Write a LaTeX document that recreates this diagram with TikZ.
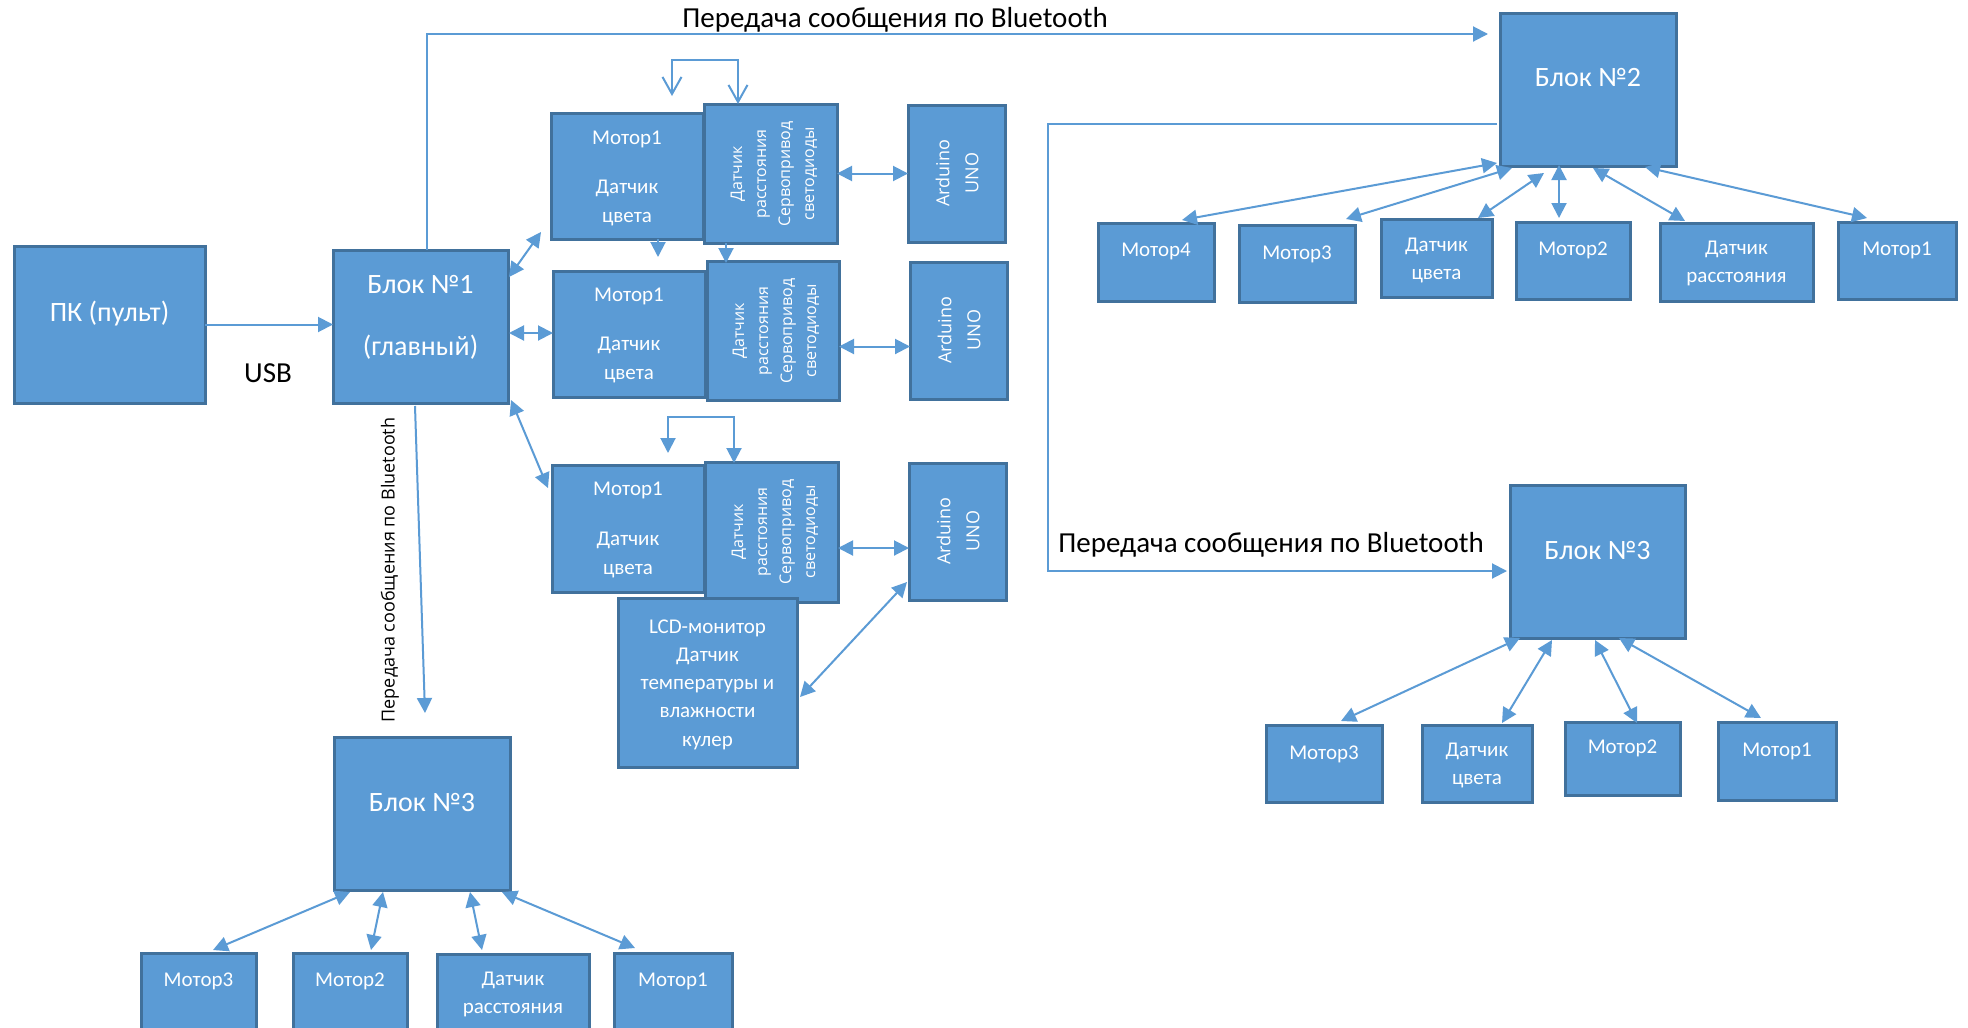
\documentclass[tikz,border=0pt]{standalone}
\usepackage{fontspec}
\setmainfont{Carlito}
\newfontfamily\rotfont{Open Sans}
\usetikzlibrary{arrows.meta,calc}
\definecolor{boxfill}{HTML}{5B9BD5}
\definecolor{boxline}{HTML}{41719C}
\definecolor{linecol}{HTML}{5B9BD5}
\begin{document}
\begin{tikzpicture}[x=1pt,y=-1pt,
  bx/.style 2 args={draw=boxline, fill=boxfill, line width=3pt, inner sep=0pt, outer sep=0pt, minimum width=#1pt, minimum height=#2pt},
  lbl/.style={text=white, inner sep=0pt, align=center, font=\fontsize{21}{29}\selectfont},
  bigtxt/.style={text=white, inner sep=0pt, align=center, font=\fontsize{28}{28}\selectfont},
  captxt/.style={text=black, inner sep=0pt, font=\fontsize{29}{34}\selectfont},
  rottxt/.style={text=white, inner sep=0pt, align=center, rotate=90, font=\rotfont\fontsize{16}{24}\selectfont},
  ardtxt/.style={text=white, inner sep=0pt, align=center, rotate=90, font=\rotfont\fontsize{18}{29}\selectfont},
  vcaptxt/.style={text=black, inner sep=0pt, rotate=90, font=\rotfont\fontsize{18}{22}\selectfont},
  con/.style={draw=linecol, line width=2pt},
  arr/.style={con, -{Triangle[length=15pt,width=15pt]}},
  darr/.style={con, {Triangle[length=15pt,width=15pt]}-{Triangle[length=15pt,width=15pt]}},
  oarr/.style={con, {Straight Barb[length=17pt,width=19pt]}-{Straight Barb[length=17pt,width=19pt]}}
]
\useasboundingbox (0,0) rectangle (1968,1028);
\clip (0,0) rectangle (1968,1028);
\fill[white] (0,0) rectangle (1968,1028);

% boxes
\node[bx={191}{157}] (pc) at (109.5,324.5) {};
\node[bx={175}{153}] (b1) at (420.5,326.5) {};
\node[bx={152}{126}] (m1a) at (627,176) {};
\node[bx={133}{139}] (sa) at (770.5,173.5) {};
\node[bx={97}{137}] (aa) at (956.5,173.5) {};
\node[bx={152}{126}] (m1b) at (629,334) {};
\node[bx={132}{139}] (sb) at (773,330.5) {};
\node[bx={97}{137}] (ab) at (958.5,330.5) {};
\node[bx={152}{127}] (m1c) at (628,528.5) {};
\node[bx={133}{140}] (sc) at (771.5,532) {};
\node[bx={97}{137}] (ac) at (957.5,531.5) {};
\node[bx={179}{169}] (lcd) at (707.5,682.5) {};

\node[bx={176}{153}] (b2) at (1588,89.5) {};
\node[bx={116}{78}] (b2m4) at (1156,262) {};
\node[bx={116}{77}] (b2m3) at (1297,263.5) {};
\node[bx={111}{78}] (b2dc) at (1436.5,258) {};
\node[bx={114}{77}] (b2m2) at (1573,260.5) {};
\node[bx={153}{78}] (b2dr) at (1736.5,262) {};
\node[bx={118}{77}] (b2m1) at (1897,260.5) {};

\node[bx={175}{153}] (b3r) at (1597.5,561.5) {};
\node[bx={116}{77}] (b3rm3) at (1324,763.5) {};
\node[bx={110}{77}] (b3rdc) at (1477,763.5) {};
\node[bx={115}{73}] (b3rm2) at (1622.5,758.5) {};
\node[bx={118}{78}] (b3rm1) at (1777,761) {};

\node[bx={176}{153}] (b3l) at (422,813.5) {};
\node[bx={115}{87}] (b3lm3) at (198.5,996.5) {};
\node[bx={114}{87}] (b3lm2) at (350,996.5) {};
\node[bx={152}{86}] (b3ldr) at (513,997) {};
\node[bx={118}{87}] (b3lm1) at (673,996.5) {};

% texts
\node[bigtxt] (tpc) at (109.5,314) {ПК (пульт)};
\node[bigtxt] (tb1) at (420.5,317) {Блок №1\\[34pt](главный)};
\node[lbl] (tm1a) at (627,178) {Мотор1\\[20pt]Датчик\\цвета};
\node[lbl] (tm1b) at (629,335) {Мотор1\\[20pt]Датчик\\цвета};
\node[lbl] (tm1c) at (628,530) {Мотор1\\[21pt]Датчик\\цвета};
\node[rottxt] (tsa) at (774,174) {Датчик\\расстояния\\Сервопривод\\светодиоды};
\node[rottxt] (tsb) at (776,331) {Датчик\\расстояния\\Сервопривод\\светодиоды};
\node[rottxt] (tsc) at (775,532) {Датчик\\расстояния\\Сервопривод\\светодиоды};
\node[ardtxt] (taa) at (957,173) {Arduino\\UNO};
\node[ardtxt] (tab) at (959,330) {Arduino\\UNO};
\node[ardtxt] (tac) at (958,531) {Arduino\\UNO};
\node[lbl, font=\fontsize{21}{28.3}\selectfont] (tlcd) at (707.5,684.5) {LCD-монитор\\Датчик\\температуры и\\влажности\\кулер};

\node[bigtxt] (tb2) at (1588,78) {Блок №2};
\node[lbl] (tb2m4) at (1156,251) {Мотор4};
\node[lbl] (tb2m3) at (1297,254) {Мотор3};
\node[lbl, font=\fontsize{21}{28}\selectfont] (tb2dc) at (1436.5,260) {Датчик\\цвета};
\node[lbl] (tb2m2) at (1573,250) {Мотор2};
\node[lbl, font=\fontsize{21}{28}\selectfont] (tb2dr) at (1736.5,263) {Датчик\\расстояния};
\node[lbl] (tb2m1) at (1897,250) {Мотор1};

\node[bigtxt] (tb3r) at (1597.5,551) {Блок №3};
\node[lbl] (tb3rm3) at (1324,754) {Мотор3};
\node[lbl, font=\fontsize{21}{28}\selectfont] (tb3rdc) at (1477,765) {Датчик\\цвета};
\node[lbl] (tb3rm2) at (1622.5,748) {Мотор2};
\node[lbl] (tb3rm1) at (1777,751) {Мотор1};

\node[bigtxt] (tb3l) at (422,803) {Блок №3};
\node[lbl] (tb3lm3) at (198.5,981) {Мотор3};
\node[lbl] (tb3lm2) at (350,981) {Мотор2};
\node[lbl, font=\fontsize{21}{28}\selectfont] (tb3ldr) at (513,994) {Датчик\\расстояния};
\node[lbl] (tb3lm1) at (673,981) {Мотор1};

\node[captxt] (bt1) at (895,20) {Передача сообщения по Bluetooth};
\node[captxt] (bt2) at (1271,545) {Передача сообщения по Bluetooth};
\node[captxt] (usb) at (268,373) {USB};
\node[vcaptxt] (bt3) at (390,570) {Передача сообщения по Bluetooth};

% connectors
\draw[arr] (pc.east) -- (pc.east -| b1.west);
\draw[darr] ($(b1.north east)+(1,27)$) -- ($(m1a.south west)+(-10,-7)$);
\draw[darr] ($(b1.east)+(1,6.5)$) -- ($(m1b.west)+(0,-1)$);
\draw[darr] ($(b1.south east)+(3,-3)$) -- ($(m1c.north west)+(-4,23)$);
\draw[darr] (sa.east) -- (aa.west);
\draw[darr] ($(sb.east)+(0,16)$) -- ($(ab.west)+(0,16)$);
\draw[darr] ($(sc.east)+(0,16)$) -- ($(ac.west)+(0,16.5)$);
\draw[darr] ($(lcd.east)+(3,14.5)$) -- ($(ac.south west)+(-2,-18)$);
\draw[oarr] ($(m1a.north east)+(-31,-17)$) |- ($(sa.north west)+(34,-44)$) -- ($(sa.north west)+(34,0)$);
\draw[arr] ($(m1a.south)+(31,0)$) -- ($(m1b.north)+(29,-14)$);
\draw[arr] ($(sa.south)+(-44.5,0)$) -- ($(sb.north)+(-47,2)$);
\draw[darr] ($(m1c.north)+(40,-12)$) |- ($(sc.north)+(-37.5,-45)$) -- ($(sc.north)+(-37.5,1)$);
\draw[arr] ($(b1.north)+(6.5,0)$) |- ($(b2.north west)+(-12,21)$);
\draw[arr] ($(b2.west)+(-3,34.5)$) -- ++(-449,0) |- ($(b3r.west)+(-3,9.5)$);
\draw[arr] ($(b1.south)+(-5.5,3)$) -- ($(b3l.north)+(3,-24)$);

% block 2 children
\draw[darr] ($(b2m4.north east)+(-32,-3)$) -- ($(b2.south west)+(-3,-3)$);
\draw[darr] ($(b2m3.north east)+(-9,-6)$) -- ($(b2.south west)+(12,2)$);
\draw[darr] ($(b2dc.north east)+(-14,-1)$) -- ($(b2.south west)+(44,7)$);
\draw[darr] ($(b2m2.north)+(-14,-4)$) -- ($(b2.south)+(-29,-1)$);
\draw[darr] ($(b2dr.north west)+(25,-2)$) -- ($(b2.south)+(5,2)$);
\draw[darr] ($(b2m1.north)+(-30,-4)$) -- ($(b2.south east)+(-31,1)$);

% block 3 right children
\draw[darr] ($(b3rm3.north)+(17,-4)$) -- ($(b3r.south west)+(10,0)$);
\draw[darr] ($(b3rdc.north)+(25,-2)$) -- ($(b3r.south west)+(42,2)$);
\draw[darr] ($(b3rm2.north)+(14.5,1)$) -- ($(b3r.south)+(-2.5,2)$);
\draw[darr] ($(b3rm1.north)+(-16,-4)$) -- ($(b3r.south)+(21.5,0)$);

% block 3 left children
\draw[darr] ($(b3lm3.north)+(14.5,-3)$) -- ($(b3l.south west)+(16,2)$);
\draw[darr] ($(b3lm2.north)+(21,-3)$) -- ($(b3l.south west)+(49,2)$);
\draw[darr] ($(b3ldr.north)+(-31,-4)$) -- ($(b3l.south)+(48,2)$);
\draw[darr] ($(b3lm1.north)+(-38,-5)$) -- ($(b3l.south east)+(-8,2)$);
\end{tikzpicture}
\end{document}
